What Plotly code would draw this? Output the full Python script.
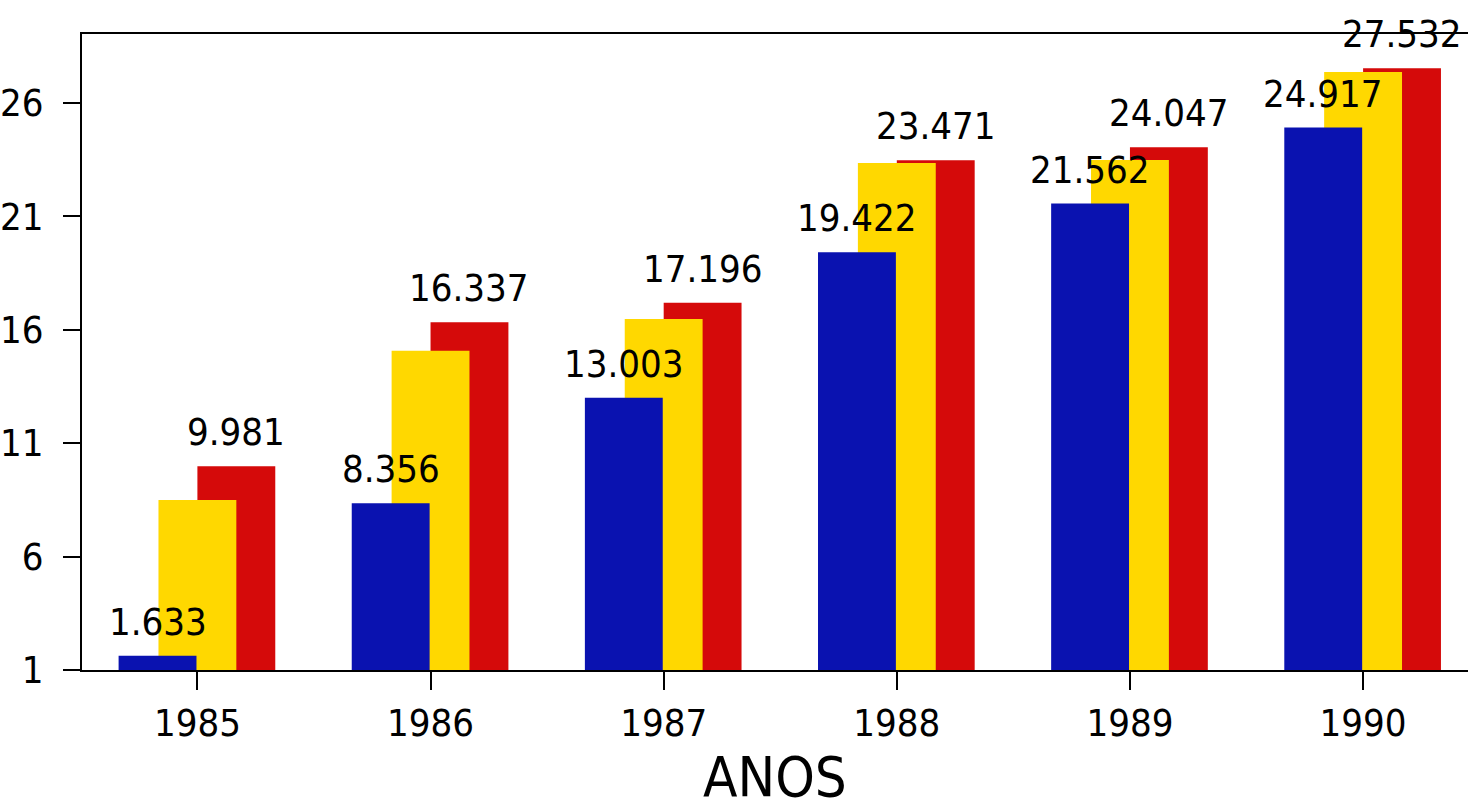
import plotly.graph_objects as go

years = [1985, 1986, 1987, 1988, 1989, 1990]
blue_vals = [1.633, 8.356, 13.003, 19.422, 21.562, 24.917]
yellow_vals = [8.50, 15.07, 16.48, 23.35, 23.49, 27.37]
red_vals = [9.981, 16.337, 17.196, 23.471, 24.047, 27.532]
y_ticks = [1, 6, 11, 16, 21, 26]

W = 0.334
OFF_BLUE, OFF_YELLOW, OFF_RED = -0.338, -0.167, 0.0
FONT = "Liberation Sans Narrow, DejaVu Sans Condensed, sans-serif"

fig = go.Figure()
# drawing order: red at back, yellow, blue in front
fig.add_trace(go.Bar(x=years, y=red_vals, width=W, offset=OFF_RED,
                     marker=dict(color="#d50a0a", line=dict(width=0)), name="red"))
fig.add_trace(go.Bar(x=years, y=yellow_vals, width=W, offset=OFF_YELLOW,
                     marker=dict(color="#ffd800", line=dict(width=0)), name="yellow"))
fig.add_trace(go.Bar(x=years, y=blue_vals, width=W, offset=OFF_BLUE,
                     marker=dict(color="#0a12b0", line=dict(width=0)), name="blue"))

def fmt(v):
    return f"{v:.3f}"

for yr, v in zip(years, blue_vals):
    fig.add_annotation(x=yr + OFF_BLUE + W / 2, y=v, text=fmt(v), showarrow=False,
                       yanchor="bottom", yshift=10, font=dict(family=FONT, size=38, color="black"))
for yr, v in zip(years, red_vals):
    fig.add_annotation(x=yr + OFF_RED + W / 2, y=v, text=fmt(v), showarrow=False,
                       yanchor="bottom", yshift=10, font=dict(family=FONT, size=38, color="black"))

fig.add_annotation(text="ANOS", xref="paper", yref="paper", x=0.5, y=-0.168,
                   yanchor="middle", showarrow=False,
                   font=dict(family=FONT, size=56, color="black"))

fig.update_layout(
    width=1468, height=808,
    margin=dict(l=80, r=0, t=34, b=138),
    paper_bgcolor="white", plot_bgcolor="white",
    barmode="overlay", showlegend=False,
    font=dict(family=FONT, color="black"),
    xaxis=dict(range=[1984.505, 1990.45], tickmode="array", tickvals=years,
               ticktext=[str(y) for y in years],
               showline=True, linecolor="black", linewidth=2, mirror=True,
               ticks="outside", ticklen=18, tickwidth=2, tickcolor="black",
               showgrid=False, zeroline=False,
               tickfont=dict(family=FONT, size=38, color="black")),
    yaxis=dict(range=[1, 29.04], tickmode="array", tickvals=y_ticks,
               showline=True, linecolor="black", linewidth=2,
               ticks="outside", ticklen=17, tickwidth=2, tickcolor="black",
               ticklabelstandoff=12,
               showgrid=False, zeroline=False,
               tickfont=dict(family=FONT, size=38, color="black")),
)

fig.write_html("out.html")
